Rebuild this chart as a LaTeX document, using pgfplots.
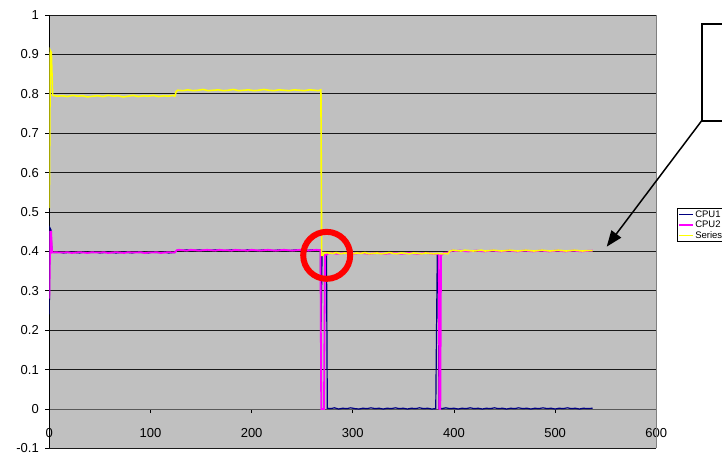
\documentclass[border=0pt]{standalone}
\usepackage{pgfplots}
\pgfplotsset{compat=1.18}
\usepackage{fontspec}
\setmainfont{Liberation Sans}
\usetikzlibrary{arrows.meta}
\definecolor{plotgray}{HTML}{C0C0C0}
\definecolor{cpuone}{HTML}{000080}
\definecolor{cputwo}{HTML}{FF00FF}
\definecolor{serthree}{HTML}{FFFF00}
\begin{document}
\begin{tikzpicture}
\useasboundingbox (0,0) rectangle (722pt,456pt);
\clip (0,0) rectangle (722pt,456pt);
\begin{axis}[
  scale only axis, width=607pt, height=433.4pt,
  at={(49.3pt,7.6pt)}, anchor=south west,
  xmin=0, xmax=600, ymin=-0.1, ymax=1,
  axis x line=middle, axis y line=left,
  axis line style={-},
  x axis line style={-, draw=black!65, line width=1pt},
  y axis line style={-, draw=black, line width=1pt},
  hide obscured x ticks=false, hide obscured y ticks=false,
  axis background/.style={fill=plotgray},
  xtick={0,100,200,300,400,500,600},
  xticklabels={0,100,200,300,400,500,600},
  ytick={-0.1,0,0.1,0.2,0.3,0.4,0.5,0.6,0.7,0.8,0.9,1},
  yticklabels={-0.1,0,0.1,0.2,0.3,0.4,0.5,0.6,0.7,0.8,0.9,1},
  tick align=outside, major tick length=4pt,
  tick style={black, line width=0.8pt},
  ticklabel style={font=\fontsize{13}{15}\selectfont},
  xticklabel style={anchor=north, yshift=-12pt},
  yticklabel style={anchor=east, xshift=-3pt},
  ymajorgrids, major grid style={black!90, line width=0.9pt},
  legend style={at={(1.0336,0.5547)}, anchor=north west, draw=black, line width=0.6pt,
    font=\fontsize{9.5}{10}\selectfont, inner xsep=1.5pt, inner ysep=1pt,
    nodes={inner sep=1pt, text height=6.8pt, text depth=1pt}, row sep=0.9pt},
  legend cell align=left,
  legend image code/.code={\draw[#1] (0pt,0pt) -- (14pt,0pt);},
  after end axis/.code={
    \draw[black!50, line width=1pt] (rel axis cs:1,0) -- (rel axis cs:1,1);
  },
]
\addplot[cpuone, line width=1.2pt] coordinates {
(0,0.24)(0.6,0.46)(1.6,0.455)(2.6,0.398)
(6,0.397)(10,0.398)(14,0.396)(18,0.397)(22,0.398)(26,0.397)(30,0.396)(34,0.398)(38,0.397)(42,0.397)
(46,0.398)(50,0.396)(54,0.397)(58,0.398)(62,0.397)(66,0.396)(70,0.397)(74,0.398)(78,0.397)(82,0.396)
(86,0.398)(90,0.397)(94,0.397)(98,0.396)(102,0.398)(106,0.397)(110,0.397)(114,0.398)(118,0.396)(122,0.397)
(124,0.397)(126,0.402)(128,0.404)(132,0.403)(136,0.404)(140,0.402)(144,0.403)(148,0.404)(152,0.403)
(156,0.402)(160,0.403)(164,0.404)(168,0.403)(172,0.402)(176,0.403)(180,0.404)(184,0.403)(188,0.403)
(192,0.402)(196,0.404)(200,0.403)(204,0.402)(208,0.403)(212,0.404)(216,0.403)(220,0.402)(224,0.403)
(228,0.404)(232,0.403)(236,0.402)(240,0.403)(244,0.404)(248,0.403)(252,0.402)(256,0.403)(260,0.404)
(264,0.403)(268,0.403)(268.6,0.20)(269.6,0.39)(274,0.39)(274.8,0.002)
(278,0.001)(282,0.003)(286,0.000)(290,0.002)(294,0.001)(298,0.003)(302,0.001)(306,0.000)(310,0.002)
(314,0.001)(318,0.003)(322,0.001)(326,0.002)(330,0.000)(334,0.002)(338,0.001)(342,0.003)(346,0.001)
(350,0.002)(354,0.000)(358,0.002)(362,0.001)(366,0.003)(370,0.001)(374,0.002)(378,0.000)(382,0.001)
(383.5,0.39)(384.5,0.39)(385.2,0.002)(388,0.001)(392,0.003)(396,0.001)(400,0.002)(404,0.000)(408,0.002)
(412,0.001)(416,0.003)(420,0.001)(424,0.002)(428,0.000)(432,0.002)(436,0.001)(440,0.003)(444,0.001)
(448,0.002)(452,0.000)(456,0.002)(460,0.001)(464,0.003)(468,0.001)(472,0.002)(476,0.000)(480,0.002)
(484,0.001)(488,0.003)(492,0.001)(496,0.002)(500,0.000)(504,0.002)(508,0.001)(512,0.003)(516,0.001)
(520,0.002)(524,0.000)(528,0.002)(532,0.001)(537,0.002)
};
\addplot[cputwo, line width=1.8pt] coordinates {
(0,0.28)(1,0.45)(1.8,0.45)(2.7,0.397)
(6,0.398)(10,0.397)(14,0.397)(18,0.398)(22,0.396)(26,0.397)(30,0.398)(34,0.397)(38,0.396)(42,0.398)
(46,0.397)(50,0.397)(54,0.398)(58,0.396)(62,0.397)(66,0.398)(70,0.397)(74,0.396)(78,0.398)(82,0.397)
(86,0.397)(90,0.398)(94,0.396)(98,0.397)(102,0.397)(106,0.398)(110,0.396)(114,0.397)(118,0.398)(122,0.397)
(124,0.397)(126,0.403)(128,0.404)(132,0.403)(136,0.402)(140,0.404)(144,0.403)(148,0.402)(152,0.403)
(156,0.404)(160,0.403)(164,0.402)(168,0.404)(172,0.403)(176,0.403)(180,0.402)(184,0.404)(188,0.403)
(192,0.403)(196,0.402)(200,0.404)(204,0.403)(208,0.402)(212,0.403)(216,0.404)(220,0.403)(224,0.402)
(228,0.403)(232,0.404)(236,0.403)(240,0.402)(244,0.403)(248,0.404)(252,0.403)(256,0.402)(260,0.403)
(264,0.404)(268,0.403)(268.8,0.0)(271.5,0.0)(272.5,0.39)(276,0.395)
(280,0.396)(284,0.394)(288,0.395)(292,0.396)(296,0.395)(300,0.394)(304,0.395)(308,0.396)(312,0.395)
(316,0.394)(320,0.395)(324,0.396)(328,0.395)(332,0.394)(336,0.395)(340,0.396)(344,0.395)(348,0.394)
(352,0.395)(356,0.396)(360,0.395)(364,0.394)(368,0.395)(372,0.396)(376,0.395)(380,0.394)(384,0.394)
(385,0.39)(385.6,0.0)(386.5,0.0)(387.2,0.39)(390,0.396)(394,0.397)(398,0.402)
(402,0.401)(406,0.402)(410,0.401)(414,0.400)(418,0.401)(422,0.402)(426,0.401)(430,0.400)(434,0.401)
(438,0.402)(442,0.401)(446,0.400)(450,0.401)(454,0.402)(458,0.401)(462,0.400)(466,0.401)(470,0.402)
(474,0.401)(478,0.400)(482,0.401)(486,0.402)(490,0.401)(494,0.400)(498,0.401)(502,0.402)(506,0.401)
(510,0.400)(514,0.401)(518,0.402)(522,0.401)(526,0.400)(530,0.401)(537,0.402)
};
\addplot[serthree, line width=1.6pt] coordinates {
(0,0.51)(1,0.91)(2,0.905)(3.3,0.796)
(8,0.794)(13,0.795)(18,0.793)(23,0.796)(28,0.794)(33,0.795)(38,0.792)(43,0.794)(48,0.795)(53,0.793)
(58,0.796)(63,0.794)(68,0.795)(73,0.792)(78,0.794)(83,0.796)(88,0.793)(93,0.795)(98,0.794)(103,0.796)
(108,0.793)(113,0.795)(118,0.794)(122,0.796)(124,0.794)(125.5,0.806)(127,0.809)
(132,0.808)(137,0.810)(142,0.808)(147,0.809)(152,0.811)(157,0.808)(162,0.809)(167,0.810)(172,0.808)
(177,0.809)(182,0.811)(187,0.808)(192,0.809)(197,0.810)(202,0.808)(207,0.809)(212,0.811)(217,0.809)
(222,0.808)(227,0.810)(232,0.809)(237,0.808)(242,0.810)(247,0.809)(252,0.808)(257,0.810)(262,0.809)
(266,0.808)(268.5,0.810)(269.2,0.39)(270.5,0.39)(271.5,0.397)
(276,0.396)(280,0.395)(284,0.397)(288,0.394)(292,0.396)(296,0.395)(300,0.394)(304,0.396)(308,0.395)
(312,0.397)(316,0.394)(320,0.395)(324,0.396)(328,0.394)(332,0.395)(336,0.397)(340,0.395)(344,0.394)
(348,0.396)(352,0.395)(356,0.394)(360,0.396)(364,0.395)(368,0.394)(372,0.396)(376,0.395)(380,0.394)
(384,0.395)(388,0.394)(392,0.395)(394,0.394)(396,0.401)(399,0.403)
(403,0.402)(407,0.401)(411,0.403)(415,0.402)(419,0.401)(423,0.402)(427,0.403)(431,0.401)(435,0.402)
(439,0.403)(443,0.402)(447,0.401)(451,0.402)(455,0.403)(459,0.402)(463,0.401)(467,0.402)(471,0.403)
(475,0.402)(479,0.401)(483,0.402)(487,0.403)(491,0.402)(495,0.401)(499,0.402)(503,0.403)(507,0.402)
(511,0.401)(515,0.402)(519,0.403)(523,0.402)(527,0.401)(531,0.402)(537,0.402)
};
\legend{CPU1,CPU2,Series3}
\addplot[forget plot, only marks, mark=o, mark size=23.5pt,
  mark options={draw=red, line width=6pt}] coordinates {(274.2,0.39)};
\end{axis}
\draw[black, line width=1.7pt, fill=white] (701.7pt,432pt) rectangle (780pt,335.3pt);
\draw[black, line width=1.5pt, -{Triangle[length=16pt,width=12pt]}] (701.7pt,335.3pt) -- (606.7pt,209.3pt);
\end{tikzpicture}
\end{document}
